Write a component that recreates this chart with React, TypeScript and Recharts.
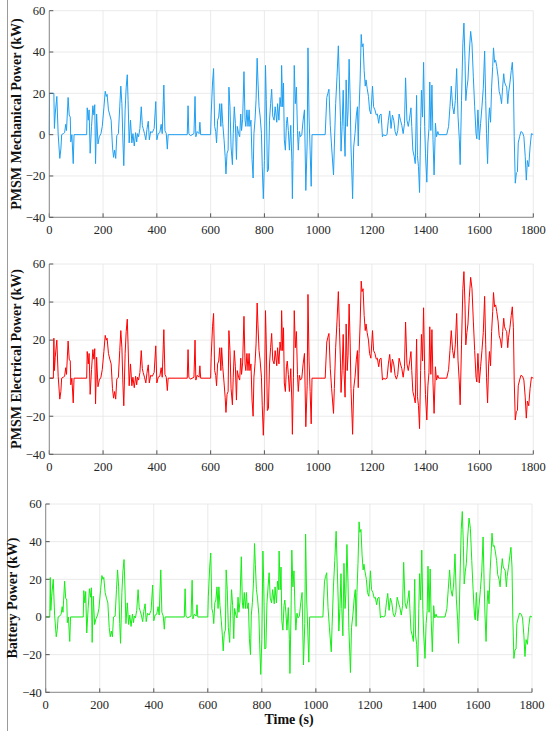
import { LineChart, Line, XAxis, YAxis, CartesianGrid } from 'recharts'

// time stamps (s) shared by the three traces
const time = [
	0, 1, 15, 17, 19, 22, 28, 33, 39, 43, 46, 52, 57, 61, 64, 70, 74, 78, 80, 84, 89, 92,
	139, 141, 145, 148, 152, 157, 162, 166, 169, 172, 176, 181, 186, 192, 197,
	203, 208, 212, 215, 220, 225, 230, 235, 239, 243, 247, 251, 257,
	262, 266, 270, 274, 277, 282, 286, 290, 293, 297,
	302, 307, 311, 316, 321, 325, 328, 332, 337, 342, 346, 349, 354, 359,
	363, 368, 372, 377, 383, 390, 396, 400,
	405, 411, 416, 420, 424, 426, 430, 435, 439, 442,
	513, 516, 519, 525, 538, 542, 545, 550, 557, 560, 563,
	600, 602, 607, 611, 615, 619, 622, 626, 630, 634, 638, 641, 645, 650, 654, 657, 661, 665, 668, 672, 676, 681, 684, 688, 692, 696, 699,
	704, 708, 712, 715, 719, 724, 728, 731, 735, 739, 743, 746, 750, 754, 758, 761, 765, 769, 773, 776, 780, 784, 789, 792, 796,
	800, 804, 807, 811, 815, 819, 823, 827, 831, 836, 840, 846, 849, 854, 858, 862, 864, 868, 871, 874, 878, 882, 885, 889, 893, 898,
	902, 904, 908, 911, 915, 919, 923, 926, 930, 934, 939, 944, 949, 954, 959, 962, 966, 970, 974, 977,
	1026, 1032, 1036, 1040, 1045, 1050, 1057, 1060, 1065, 1070, 1075, 1079, 1083, 1085, 1089, 1093, 1096,
	1100, 1104, 1108, 1111, 1115, 1119, 1122, 1126, 1128, 1132, 1137, 1142, 1146, 1149, 1152, 1156, 1160, 1163, 1167, 1171, 1175, 1178, 1182, 1187, 1191, 1196,
	1202, 1206, 1211, 1216, 1220, 1225, 1229, 1234, 1239, 1243, 1249, 1256, 1261, 1266, 1271, 1276, 1281, 1286, 1291, 1296,
	1301, 1306, 1311, 1316, 1321, 1325, 1330, 1335, 1340, 1345, 1348, 1352, 1357, 1361, 1366, 1369, 1373, 1377, 1381, 1384, 1388, 1392, 1396, 1399,
	1404, 1408, 1412, 1415, 1419, 1423, 1427, 1431, 1436, 1440, 1445, 1448,
	1478, 1485, 1490, 1495, 1500, 1505, 1510, 1515, 1520, 1525, 1528, 1533, 1538, 1542, 1546, 1549, 1553, 1557, 1562, 1567, 1572, 1577, 1582, 1587, 1590, 1594, 1599,
	1604, 1609, 1614, 1619, 1623, 1626, 1630, 1634, 1637, 1641, 1645, 1649, 1652, 1656, 1660, 1664, 1669, 1673, 1678, 1682, 1686, 1690, 1693, 1697,
	1701, 1705, 1708, 1713, 1718, 1722, 1726, 1729, 1733, 1737, 1741, 1744, 1749, 1754, 1760, 1765, 1770, 1774, 1778, 1783, 1788, 1793, 1800,
]

// kW
const mechanical = [
	0, 20, 20, 20, 3, 10, 18.5, 0, -11.5, -7, 0, 0.5, 1, 5, 2, 18, 9.5, 8.5, -3.5, 0, -14, 0,
	0, 13, 7, 12, -9, 4, 14, 9.5, 14.5, -14, 10, -4.5, -1, 0.5, 4,
	13, 21, 18.5, 19.5, 12, 9.5, 7, -6, -11, -7.5, -11.5, -0.5, 0.5,
	13.5, 23.5, 15, -4, -15, 12, 23, 29, 16.5, -4,
	7, -4, 0.5, -5.5, 1, -3.5, 0.5, -1, 3, 13.5, 4.5, 3, 0.5, -2.5,
	2.5, 6.5, -2.5, 1.5, 1, 3, 16, -2.5,
	0.5, 1, 5, 0.5, 16.5, 24, 2, 0.5, -7, 0,
	0, 14, 0.5, -0.5, 0.5, 18.5, -1, 1.5, 0.5, 6, 0,
	0, 10, 25, 32, 4, 1.5, -4, 7, 8.5, 15, 4, 15, 5.5, -2.5, -10.5, -19, -9, -7.5, 23, 13.5, -6, -14.5, 0.5, 13.5, 5.5, -12, 4,
	0.5, -1, 10, 2, 7.5, 30.5, 7, 4, 12, 4, 12, 4, 7, -12, -21, 0.5, 7, 17, 37, 26, 13.5, 9, 0.5, -15.5, -31,
	-12.5, 33.5, 17, -18, -17, 7, 15, 22, 9, 7, 13.5, 6, 15, 7, 18, 13.5, 33.5, 13.5, 25, -2.5, -7.5, 5.5, 8.5, 2, -7.5, 4.5,
	-12.5, -31, 0.5, 33.5, 15, 23, 2, -7.5, 1.5, -1, 0, 7, 12, -27, -4, 42, 8.5, -7.5, -25, 0,
	0, 18, 20, 22, 4.5, -6, -19.5, -6, 15, 28, 43, 25, 7, -8, 4, 21.5, 4,
	-10.5, 26.5, 4, 11, 36.5, 17, -6, -22, -31, -6, 0.5, 9.5, 13.5, -5.5, 12, 26.5, 48.5, 42.5, 44, 31, 23.5, 26.5, 22.5, 18.5, 12, 10,
	23.5, 13.5, 12, 9.5, 10, 5.5, 9.5, 10, -1, 0, -0.5, 0, 7, 11.5, 3, 9.5, 7, 1.5, -0.5, 2,
	10, 7, 4.5, 0.5, 5.5, 27.5, 7, 4, 8, 13, 4, -7.5, -10.5, -14, 19, -10, -15.5, -28, 4, 21.5, 8.5, 35, 4, -9,
	-23, -4, 3, 25.5, 2, 24, -2.5, -19.5, 5.5, -1, 1.5, 0,
	0, 4, 13.5, 23.5, 13.5, 10, 16.5, 32, 9, -2.5, -14.5, 16.5, 44, 54, 36, 16.5, 22.5, 26.5, 40, 50, 44, 28, 13.5, 0.5, -2, 12, -2.5,
	5.5, 13.5, 22.5, 40.5, 16.5, 0.5, -14, 7, 13, 6, 23, 33, 42, 35, 36, 33, 28, 21, 18.5, 15, 23, 29.5, 25.5, 24,
	23, 15, 20, 25, 31, 35, 25, -1, -23.5, -18.5, -18, -4, -1, 1.5, 1, -1, -10.5, -22, -12.5, -15.5, -6, 0.5, 0,
]

const electrical = [
	0, 0, 0, 21, 4, 11, 20, 1, -11, -7, 0, 0.5, 1, 5.5, 2, 19.5, 10, 9, -3.5, 0, -13, 0,
	0, 14, 7.5, 13, -8.5, 4.5, 15, 10, 15.5, -13.5, 11, -4.5, -1, 0.5, 4.5,
	14, 22.5, 20, 21, 13, 10, 7.5, -5.5, -10.5, -7, -11, -0.5, 0.5,
	14.5, 25, 16, -4, -14.5, 13, 24.5, 31, 17.5, -4,
	7.5, -4, 0.5, -5, 1, -3.5, 0.5, -1, 3, 14.5, 5, 3, 0.5, -2.5,
	2.5, 7, -2.5, 1.5, 1, 3, 17, -2.5,
	0.5, 1, 5.5, 0.5, 17.5, 25.5, 2, 0.5, -6.5, 0,
	0, 15, 0.5, -0.5, 0.5, 20, -1, 1.5, 0.5, 6.5, 0,
	0, 11, 27, 34, 4, 1.5, -4, 7.5, 9, 16, 4, 16, 6, -2.5, -10, -18, -8.5, -7, 25, 14.5, -5.5, -14, 0.5, 14.5, 6, -11.5, 4,
	0.5, -1, 10.5, 2, 8, 32.5, 7.5, 4, 13, 4, 13, 4, 7.5, -11.5, -20, 0.5, 7.5, 18, 39.5, 28, 14.5, 9.5, 0.5, -14.5, -30,
	-12, 35.5, 18, -17, -16, 7.5, 16, 23.5, 9.5, 7.5, 14.5, 6.5, 16, 7.5, 19, 14.5, 35.5, 14.5, 26.5, -2.5, -7, 6, 9, 2, -7, 5,
	-12, -29.5, 0.5, 35.5, 16, 24.5, 2, -7, 1.5, -1, 0, 7.5, 13, -25.5, -4, 44, 9, -7, -24, 0,
	0, 19, 21.5, 23.5, 5, -5.5, -18.5, -5.5, 16, 30, 45.5, 26.5, 7.5, -7.5, 4, 23, 4,
	-10, 28.5, 4, 12, 39, 18, -5.5, -21, -29.5, -5.5, 0.5, 10, 14.5, -5, 13, 28.5, 51, 45.5, 47, 33, 25, 28.5, 24, 20, 13, 10.5,
	25, 14.5, 13, 10, 10.5, 6, 10, 10.5, -1, 0, -0.5, 0, 7.5, 12.5, 3, 10, 7.5, 1.5, -0.5, 2,
	10.5, 7.5, 5, 0.5, 6, 29.5, 7.5, 4, 8.5, 14, 4, -7, -10, -13, 20.5, -9.5, -14.5, -26.5, 4, 23, 9, 37, 4, -8.5,
	-22, -4, 3, 27, 2, 25.5, -2.5, -18.5, 6, -1, 1.5, 0,
	0, 4.5, 14.5, 25, 14.5, 10.5, 17.5, 34, 9.5, -2.5, -14, 17.5, 47, 56, 38.5, 17.5, 24, 28.5, 42.5, 53, 47, 30, 14.5, 0.5, -2, 13, -2.5,
	6, 14.5, 24, 43, 17.5, 0.5, -13, 7.5, 14, 6.5, 24.5, 35, 45, 37.5, 38.5, 35, 30, 22.5, 20, 16, 24.5, 31.5, 27, 25.5,
	24.5, 16, 21.5, 26.5, 33, 37.5, 26.5, -1, -22, -17.5, -17, -4, -1, 1.5, 1, -1, -10, -21, -12, -14.5, -5.5, 0.5, 0,
]

const battery = [
	0, 0, 0, 21, 3.5, 11, 20, 1, -10.5, -6.5, 0, 0.5, 1.5, 5.5, 2.5, 19, 10, 9, -3, 0, -13, 0,
	0, 14, 7.5, 13.5, -8.5, 4.5, 15, 10.5, 15.5, -13.5, 11, -4, -1, 1, 4.5,
	14, 22, 20, 21, 13, 10, 7.5, -5.5, -10.5, -7.5, -10.5, 0, 0.5,
	14.5, 25, 16, -3.5, -14, 13, 24.5, 30.5, 17.5, -3.5,
	7.5, -4, 1, -5, 1.5, -3, 0.5, -0.5, 3.5, 14.5, 5, 3.5, 1, -2.5,
	3, 7, -2.5, 2, 1, 3.5, 17, -2,
	1, 1.5, 5.5, 1, 17.5, 25, 2.5, 0.5, -6.5, 0,
	0, 15, 0.5, -0.5, 0.5, 19.5, -1, 1.5, 0.5, 6.5, 0,
	0, 11, 26.5, 34, 4.5, 2, -3.5, 7.5, 9, 16, 4.5, 16, 6, -2, -10, -18, -8.5, -7, 25, 14.5, -5.5, -13.5, 1, 14.5, 6, -11.5, 4.5,
	1, -0.5, 10.5, 2.5, 8, 32, 7.5, 4.5, 13, 4.5, 13, 4.5, 7.5, -11.5, -20, 1, 7.5, 18, 39, 28, 14.5, 10, 1, -14.5, -30.5,
	-12, 35, 18, -17, -16.5, 7.5, 16, 23.5, 10, 7.5, 14.5, 7, 16, 7.5, 19, 14.5, 35, 14.5, 26.5, -2, -7, 6, 9, 2.5, -7, 5,
	-12, -30, 1, 35.5, 16, 24.5, 2.5, -7, 2, -0.5, 0.5, 7.5, 13, -25.5, -3.5, 44, 9, -7, -24, 0,
	0, 19, 21.5, 23.5, 5, -5.5, -18.5, -5, 16, 30, 45.5, 26.5, 7.5, -7.5, 4.5, 23, 4.5,
	-10, 28.5, 4.5, 12, 38.5, 18, -5.5, -21, -29.5, -5.5, 1, 10, 14.5, -5, 13, 28.5, 50.5, 45, 46.5, 33, 25, 28, 24, 20, 13, 11,
	24.5, 14.5, 13, 10, 10.5, 6.5, 10, 10.5, -0.5, 0.5, 0, 0.5, 7.5, 12.5, 3.5, 10, 7.5, 2, 0, 2.5,
	10.5, 7.5, 5, 1, 6, 29, 7.5, 4.5, 8.5, 14, 4.5, -7, -10, -13, 20, -9.5, -14.5, -26.5, 4.5, 23, 9, 35.5, 4, -8.5,
	-22, -3.5, 3.5, 27, 2.5, 25.5, -2, -18.5, 6, -0.5, 1.5, 0,
	0, 4.5, 14.5, 25, 14.5, 11, 17.5, 33.5, 9.5, -2, -14, 17.5, 46.5, 56, 38, 17.5, 24, 28.5, 42.5, 52.5, 47, 30, 14.5, 1, -1.5, 13, -2,
	6, 14.5, 24, 42.5, 17.5, 1, -13, 7.5, 14, 7, 24.5, 35, 44.5, 37.5, 38, 35, 30, 22.5, 20, 16, 24.5, 31, 27, 25.5,
	24.5, 16, 21.5, 26.5, 32.5, 37, 26.5, -0.5, -22, -17.5, -17, -3.5, -0.5, 2, 1.5, -0.5, -10, -21, -12, -14.5, -5, 0.5, 0,
]

const xTicks = [0, 200, 400, 600, 800, 1000, 1200, 1400, 1600, 1800]
const yTicks = [-40, -20, 0, 20, 40, 60]

const FONT = 'Liberation Serif'
const AXIS = '#8a8a8a'

// tick labels drawn by hand so the serif face is kept
const XTick = (p: any) => (
	<text x={p.x} y={p.y} dy='0.71em' textAnchor='middle' fontSize={12.5} fontFamily={FONT} fill='#262626'>
		{p.payload.value}
	</text>
)

const YTick = (p: any) => (
	<text x={p.x} y={p.y} dy='0.35em' textAnchor='end' fontSize={12.5} fontFamily={FONT} fill='#262626'>
		{p.payload.value < 0 ? '\u2212' + Math.abs(p.payload.value) : p.payload.value}
	</text>
)

type PanelProps = {
	top: number
	height: number
	margin: { top: number; right: number; bottom: number; left: number }
	values: number[]
	color: string
	title: string
	titleX: number
	titleY: number
	timeLabel?: boolean
}

const Panel = ({ top, height, margin, values, color, title, titleX, titleY, timeLabel }: PanelProps) => {
	const rows = time.map((t, i) => ({ t, v: values[i] }))
	return (
		<div style={{ position: 'absolute', left: 0, top }}>
			<LineChart width={550} height={height} data={rows} margin={margin}>
				<CartesianGrid stroke='#e4e4e4' strokeWidth={0.8} />
				<XAxis
					dataKey='t'
					type='number'
					domain={[0, 1800]}
					ticks={xTicks}
					height={20}
					tick={<XTick />}
					tickSize={-4}
					tickMargin={12}
					axisLine={{ stroke: AXIS }}
					tickLine={{ stroke: '#555' }}
					label={
						timeLabel
							? {
									content: () => (
										<text x={289} y={239} textAnchor='middle' fontSize={14} fontWeight='bold' fontFamily={FONT} fill='#111'>
											Time (s)
										</text>
									),
							  }
							: undefined
					}
				/>
				<XAxis xAxisId='top' orientation='top' type='number' domain={[0, 1800]} ticks={xTicks} height={0} tick={false} tickSize={-4} axisLine={{ stroke: AXIS }} tickLine={{ stroke: '#555' }} />
				<YAxis
					type='number'
					domain={[-40, 60]}
					ticks={yTicks}
					width={40}
					tick={<YTick />}
					tickSize={-4}
					tickMargin={8}
					axisLine={{ stroke: AXIS }}
					tickLine={{ stroke: '#555' }}
					label={{
						content: () => (
							<text
								x={titleX}
								y={titleY}
								transform={`rotate(-90, ${titleX}, ${titleY})`}
								textAnchor='middle'
								fontSize={14}
								fontWeight='bold'
								fontFamily={FONT}
								fill='#111'
							>
								{title}
							</text>
						),
					}}
				/>
				<YAxis yAxisId='right' orientation='right' type='number' domain={[-40, 60]} ticks={yTicks} width={0} tick={false} tickSize={-4} axisLine={{ stroke: AXIS }} tickLine={{ stroke: '#555' }} />
				<Line type='linear' dataKey='v' stroke={color} strokeWidth={1} dot={false} isAnimationActive={false} />
			</LineChart>
		</div>
	)
}

export default () => {
	return (
		<div style={{ position: 'absolute', left: 0, top: 0, width: 550, height: 736, background: '#fff' }}>
			<div style={{ position: 'absolute', left: 7, top: 0, width: 0, height: 731, borderLeft: '1.5px solid #9a9a9a' }} />
			<Panel
				top={0}
				height={240}
				margin={{ top: 10.7, right: 16.7, bottom: 2.7, left: 9.3 }}
				values={mechanical}
				color='#1e9ff2'
				title='PMSM Mechanical Power (kW)'
				titleX={21}
				titleY={114}
			/>
			<Panel
				top={240}
				height={245}
				margin={{ top: 24, right: 16.7, bottom: 10.7, left: 9.3 }}
				values={electrical}
				color='#ff0000'
				title='PMSM Electrical Power (kW)'
				titleX={21}
				titleY={119}
			/>
			<Panel
				top={485}
				height={251}
				margin={{ top: 19, right: 18, bottom: 23.7, left: 5.7 }}
				values={battery}
				color='#14ee14'
				title='Battery Power (kW)'
				titleX={17}
				titleY={113}
				timeLabel
			/>
		</div>
	)
}
